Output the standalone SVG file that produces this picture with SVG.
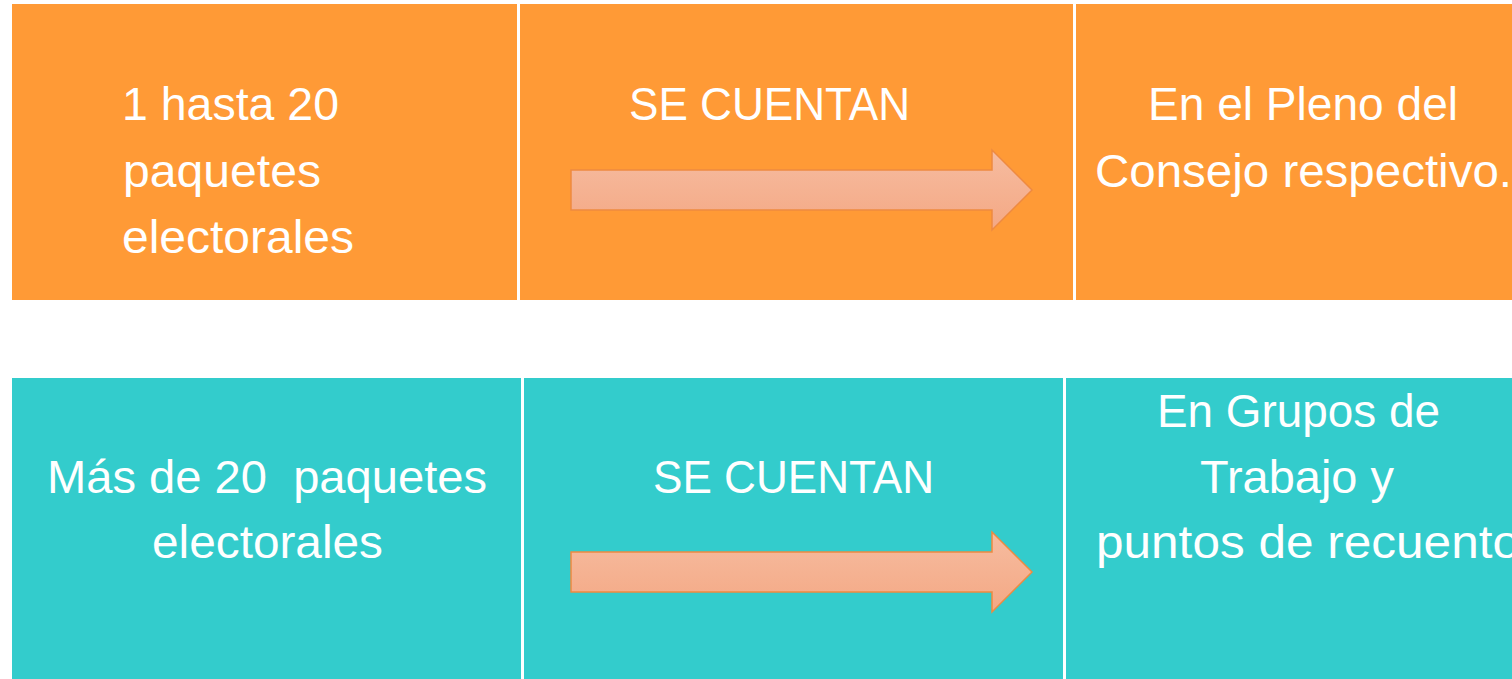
<svg xmlns="http://www.w3.org/2000/svg" width="1512" height="679" viewBox="0 0 1512 679">
<style>
.or{fill:#FF9A36}
.tl{fill:#33CCCC}
.t{font-family:"Liberation Sans",Arial,sans-serif;font-size:46px;fill:#FFFFFF}
.arr{fill:url(#ag);stroke:#EE8A40;stroke-width:1.5}
</style>
<defs>
<linearGradient id="ag" x1="0" y1="0" x2="0" y2="1">
<stop offset="0" stop-color="#F6BCA0"/>
<stop offset="1" stop-color="#F4A884"/>
</linearGradient>
</defs>
<rect width="1512" height="679" fill="#FFFFFF"/>
<g id="top-left">
<rect class="or" x="12" y="4" width="505" height="296"/>
<text class="t" x="122" y="120" textLength="217" lengthAdjust="spacingAndGlyphs">1 hasta 20</text>
<text class="t" x="123" y="187" textLength="198" lengthAdjust="spacingAndGlyphs">paquetes</text>
<text class="t" x="122" y="253" textLength="232" lengthAdjust="spacingAndGlyphs">electorales</text>
</g>
<g id="top-mid">
<rect class="or" x="520" y="4" width="553" height="296"/>
<text class="t" x="629" y="120" textLength="281" lengthAdjust="spacingAndGlyphs">SE CUENTAN</text>
</g>
<g id="top-right">
<rect class="or" x="1076" y="4" width="436" height="296"/>
<text class="t" x="1148" y="120" textLength="310" lengthAdjust="spacingAndGlyphs">En el Pleno del</text>
<text class="t" x="1095" y="187" textLength="417" lengthAdjust="spacingAndGlyphs">Consejo respectivo.</text>
</g>
<g id="bot-left">
<rect class="tl" x="12" y="378" width="509" height="301"/>
<text class="t" x="47" y="493" textLength="440" lengthAdjust="spacingAndGlyphs" xml:space="preserve">Más de 20  paquetes</text>
<text class="t" x="152" y="558" textLength="231" lengthAdjust="spacingAndGlyphs">electorales</text>
</g>
<g id="bot-mid">
<rect class="tl" x="524" y="378" width="539" height="301"/>
<text class="t" x="653" y="493" textLength="281" lengthAdjust="spacingAndGlyphs">SE CUENTAN</text>
</g>
<g id="bot-right">
<rect class="tl" x="1066" y="378" width="446" height="301"/>
<text class="t" x="1157" y="427" textLength="283" lengthAdjust="spacingAndGlyphs">En Grupos de</text>
<text class="t" x="1200" y="493" textLength="194" lengthAdjust="spacingAndGlyphs">Trabajo y</text>
<text class="t" x="1096" y="558" textLength="424" lengthAdjust="spacingAndGlyphs">puntos de recuento</text>
</g>
<g id="connectors">
<path class="arr" d="M571,170 H992 V150 L1032,190 L992,230 V210 H571 Z"/>
<path class="arr" d="M571,552 H992 V532 L1032,572 L992,612 V592 H571 Z"/>
</g>
</svg>
